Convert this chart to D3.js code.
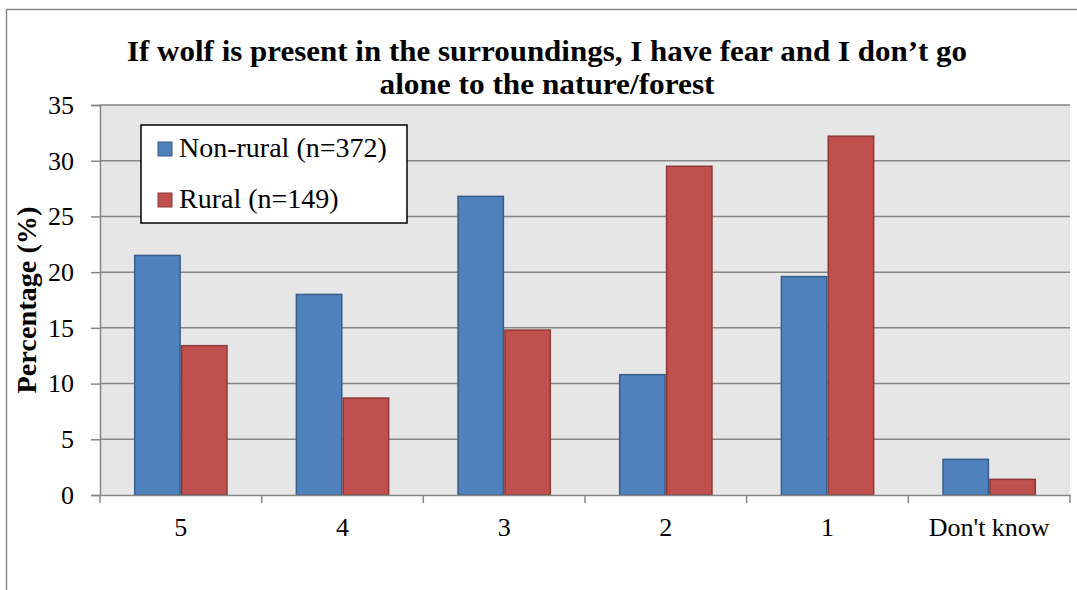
<!DOCTYPE html>
<html>
<head>
<meta charset="utf-8">
<script src="https://cdn.jsdelivr.net/npm/d3@7"></script>
<style>
  html, body { margin: 0; padding: 0; background: #fff; }
  svg { display: block; }
</style>
</head>
<body>
<svg id="chart" width="1077" height="590"></svg>
<script>
const categories = ["5", "4", "3", "2", "1", "Don't know"];
const seriesNames = ["Non-rural (n=372)", "Rural (n=149)"];
const nonRural = [21.5, 18.0, 26.8, 10.8, 19.6, 3.2];
const rural = [13.4, 8.7, 14.8, 29.5, 32.2, 1.4];
const yTicks = [0, 5, 10, 15, 20, 25, 30, 35];
const titleLines = ["If wolf is present in the surroundings, I have fear and I don\u2019t go", "alone to the nature/forest"];
const yTitle = "Percentage (%)";

const fills = ["#4f81bd", "#c0504d"];
const strokes = ["#385d8a", "#8c3836"];

const svg = d3.select("#chart");
const serif = "'Liberation Serif', 'DejaVu Serif', serif";

// outer chart border
svg.append("path")
  .attr("d", "M6.5,600 L6.5,9.5 L1090,9.5")
  .attr("fill", "none").attr("stroke", "#8a8a8a").attr("stroke-width", 1.5);

const pL = 100, pR = 1070, pT = 105, pB = 495;
const x0 = d3.scaleBand().domain(categories).range([pL, pR]).padding(0);
const bw = x0.bandwidth();
const x1 = d3.scaleBand().domain([0, 1]).range([bw * 0.21, bw * 0.79]).padding(0);
const y = d3.scaleLinear().domain([0, 35]).range([pB, pT]);

// plot background
svg.append("rect")
  .attr("x", pL).attr("y", pT)
  .attr("width", pR - pL).attr("height", pB - pT)
  .attr("fill", "#e6e6e6");

// gridlines
svg.append("g").selectAll("line").data(yTicks.filter(d => d > 0)).join("line")
  .attr("x1", pL).attr("x2", pR)
  .attr("y1", d => y(d)).attr("y2", d => y(d))
  .attr("stroke", "#868686").attr("stroke-width", 1.5);

// y axis
const yAxis = d3.axisLeft(y).tickValues(yTicks).tickSize(9).tickPadding(17).tickFormat(d3.format("d"));
const gy = svg.append("g").attr("transform", `translate(${pL},0)`).call(yAxis);
gy.select(".domain").attr("stroke", "#868686").attr("stroke-width", 1.5);
gy.selectAll(".tick line").attr("stroke", "#868686").attr("stroke-width", 1.5);
gy.selectAll(".tick text").attr("font-family", serif).attr("font-size", 26).attr("fill", "#000");

// bars
const data = categories.map((c, i) => ({ c, v: [nonRural[i], rural[i]] }));
const groups = svg.append("g").selectAll("g").data(data).join("g")
  .attr("transform", d => `translate(${x0(d.c)},0)`);
groups.selectAll("rect").data(d => d.v.map((v, k) => ({ v, k }))).join("rect")
  .attr("x", d => x1(d.k) + 0.75)
  .attr("width", x1.bandwidth() - 1.5)
  .attr("y", d => y(d.v))
  .attr("height", d => y(0) - y(d.v))
  .attr("fill", d => fills[d.k])
  .attr("stroke", d => strokes[d.k])
  .attr("stroke-width", 1.5);

// x axis
const xAxis = d3.axisBottom(x0).tickSize(0).tickPadding(23);
const gx = svg.append("g").attr("transform", `translate(0,${pB})`).call(xAxis);
gx.select(".domain").attr("stroke", "#868686").attr("stroke-width", 1.5);
gx.selectAll(".tick text").attr("font-family", serif).attr("font-size", 26).attr("fill", "#000");
const bounds = categories.map(c => x0(c)).concat([pR]);
svg.append("g").selectAll("line").data(bounds).join("line")
  .attr("x1", d => d).attr("x2", d => d)
  .attr("y1", pB).attr("y2", pB + 8)
  .attr("stroke", "#868686").attr("stroke-width", 1.5);

// title
const titleWidths = [840, 335];
svg.append("g").selectAll("text").data(titleLines).join("text")
  .attr("x", 547).attr("y", (d, i) => 61 + i * 33)
  .attr("text-anchor", "middle")
  .attr("font-family", serif).attr("font-weight", "bold").attr("font-size", 30)
  .attr("textLength", (d, i) => titleWidths[i]).attr("lengthAdjust", "spacingAndGlyphs")
  .attr("fill", "#000")
  .text(d => d);

// y title
svg.append("text")
  .attr("transform", "translate(36,300) rotate(-90)")
  .attr("text-anchor", "middle")
  .attr("font-family", serif).attr("font-weight", "bold").attr("font-size", 27)
  .attr("textLength", 187).attr("lengthAdjust", "spacingAndGlyphs")
  .attr("fill", "#000")
  .text(yTitle);

// legend
const lg = svg.append("g");
lg.append("rect").attr("x", 141).attr("y", 125).attr("width", 266).attr("height", 98)
  .attr("fill", "#fff").attr("stroke", "#000").attr("stroke-width", 1.5);
seriesNames.forEach((name, k) => {
  lg.append("rect").attr("x", 158).attr("y", 142 + k * 51).attr("width", 14).attr("height", 14)
    .attr("fill", fills[k]).attr("stroke", strokes[k]).attr("stroke-width", 1);
  lg.append("text").attr("x", 179).attr("y", 157 + k * 51)
    .attr("font-family", serif).attr("font-size", 28).attr("fill", "#000")
    .text(name);
});
</script>
</body>
</html>
